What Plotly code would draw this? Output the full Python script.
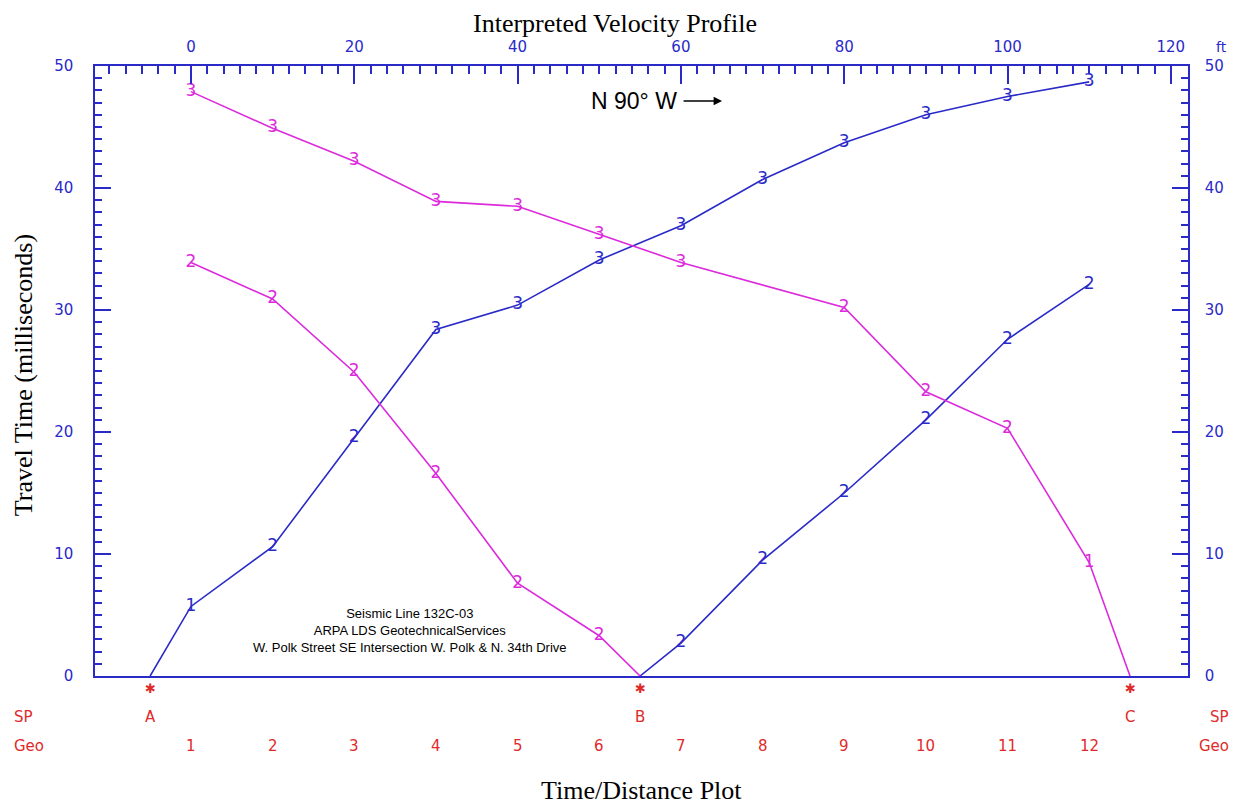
import plotly.graph_objects as go

# distances along the line (ft)
geo_ft = [0, 10, 20, 30, 40, 50, 60, 70, 80, 90, 100, 110]
geo_names = ['1', '2', '3', '4', '5', '6', '7', '8', '9', '10', '11', '12']
sp_ft = [-5, 55, 115]
sp_names = ['A', 'B', 'C']

# shot A, forward (blue)
a_x = [-5, 0, 10, 20, 30, 40, 50, 60, 70, 80, 90, 100, 110]
a_t = [0, 5.7, 10.6, 19.5, 28.4, 30.4, 34.1, 36.9, 40.7, 43.7, 46.0, 47.5, 48.7]
a_lay = ['', '1', '2', '2', '3', '3', '3', '3', '3', '3', '3', '3', '3']

# shot B, forward (blue)
bf_x = [55, 60, 70, 80, 90, 100, 110]
bf_t = [0, 2.7, 9.5, 15.0, 21.0, 27.6, 32.1]
bf_lay = ['', '2', '2', '2', '2', '2', '2']

# shot B, reverse (magenta)
br_x = [0, 10, 20, 30, 40, 50, 55]
br_t = [33.9, 30.9, 24.9, 16.6, 7.6, 3.3, 0]
br_lay = ['2', '2', '2', '2', '2', '2', '']

# shot C, reverse (magenta)
c_x = [0, 10, 20, 30, 40, 50, 60, 80, 90, 100, 110, 115]
c_t = [47.9, 44.9, 42.2, 38.9, 38.5, 36.2, 33.9, 30.2, 23.3, 20.3, 9.3, 0]
c_lay = ['3', '3', '3', '3', '3', '3', '3', '2', '2', '2', '1', '']

blue = '#2a2ac8'
mag = '#dc2adc'
red = '#e02a2a'
xr = [-11.75, 122.1]

fig = go.Figure()

for xs, ys, lab, col in [(a_x, a_t, a_lay, blue), (bf_x, bf_t, bf_lay, blue),
                         (br_x, br_t, br_lay, mag), (c_x, c_t, c_lay, mag)]:
    fig.add_trace(go.Scatter(x=xs, y=ys, text=lab, mode='lines+text',
                             textposition='middle center',
                             textfont=dict(family='DejaVu Sans', size=17, color=col),
                             line=dict(color=col, width=1.6), cliponaxis=False,
                             hoverinfo='skip'))

# dummy trace so the top / right axes get drawn
fig.add_trace(go.Scatter(x=[0], y=[0], xaxis='x2', yaxis='y2', mode='markers',
                         marker=dict(opacity=0), hoverinfo='skip'))

axis_font = dict(family='DejaVu Sans', size=15, color=blue)

# page body has an 8px margin, so the figure is shrunk by that much
fig.update_layout(
    width=1233, height=798,
    margin=dict(l=87, r=53, t=58, b=130),
    paper_bgcolor='white', plot_bgcolor='white',
    showlegend=False,
    xaxis=dict(range=xr, showticklabels=False, ticks='', showgrid=False,
               zeroline=False, showline=True, linecolor=blue, linewidth=1.5),
    xaxis2=dict(range=xr, overlaying='x', side='top', anchor='y',
                tickmode='linear', tick0=0, dtick=20, ticks='inside',
                ticklen=18, tickwidth=1.5, tickcolor=blue, tickfont=axis_font,
                ticklabelstandoff=6,
                minor=dict(ticks='inside', tick0=0, dtick=2, ticklen=8,
                           tickwidth=1.5, tickcolor=blue),
                showgrid=False, zeroline=False, showline=True,
                linecolor=blue, linewidth=1.5),
    yaxis=dict(range=[0, 50], tickmode='linear', tick0=0, dtick=10,
               ticks='inside', ticklen=16, tickwidth=1.5, tickcolor=blue,
               tickfont=axis_font, ticklabelstandoff=17,
               minor=dict(ticks='inside', dtick=1, ticklen=7, tickwidth=1.5,
                          tickcolor=blue),
               showgrid=False, zeroline=False, showline=True,
               linecolor=blue, linewidth=1.5),
    yaxis2=dict(range=[0, 50], overlaying='y', side='right', anchor='x',
                tickmode='linear', tick0=0, dtick=10, ticks='inside',
                ticklen=16, tickwidth=1.5, tickcolor=blue, tickfont=axis_font,
                ticklabelstandoff=12,
                minor=dict(ticks='inside', dtick=1, ticklen=7, tickwidth=1.5,
                           tickcolor=blue),
                showgrid=False, zeroline=False, showline=True,
                linecolor=blue, linewidth=1.5),
)

serif = dict(family='Liberation Serif', size=26, color='black')
notes = [
    dict(text='Interpreted Velocity Profile', x=0.476, y=1.07, font=serif),
    dict(text='Time/Distance Plot', x=0.5, y=-0.187, font=serif),
    dict(text='Travel Time (milliseconds)', x=-0.066, y=0.493, font=serif,
         textangle=-90),
    dict(text='ft', x=1.031, y=1.031,
         font=dict(family='DejaVu Sans', size=14, color=blue)),
    dict(text='Seismic Line 132C-03<br>ARPA LDS GeotechnicalServices<br>'
              'W. Polk Street SE Intersection W. Polk &amp; N. 34th Drive',
         x=0.288, y=0.0754,
         font=dict(family='Liberation Sans', size=13, color='black')),
    dict(text='N 90° W', x=0.493, y=0.9426,
         font=dict(family='Liberation Sans', size=23, color='black')),
]
for n in notes:
    fig.add_annotation(xref='paper', yref='paper', showarrow=False,
                       xanchor='center', yanchor='middle', **n)

red_font = dict(family='DejaVu Sans', size=15, color=red)
for row_y, row_name in [(-0.0672, 'SP'), (-0.1148, 'Geo')]:
    fig.add_annotation(xref='paper', yref='paper', x=-0.0759, y=row_y,
                       text=row_name, showarrow=False, xanchor='left',
                       yanchor='middle', font=red_font)
    fig.add_annotation(xref='paper', yref='paper', x=1.039, y=row_y,
                       text=row_name, showarrow=False, xanchor='right',
                       yanchor='middle', font=red_font)

for pos, name in zip(sp_ft, sp_names):
    fig.add_annotation(x=pos, xref='x', y=-0.0672, yref='paper', text=name,
                       showarrow=False, yanchor='middle', font=red_font)
    fig.add_annotation(x=pos, xref='x', y=-0.0197, yref='paper', text='✱',
                       showarrow=False, yanchor='middle',
                       font=dict(family='DejaVu Sans', size=13, color=red))
for pos, name in zip(geo_ft, geo_names):
    fig.add_annotation(x=pos, xref='x', y=-0.1148, yref='paper', text=name,
                       showarrow=False, yanchor='middle', font=red_font)

# direction arrow
fig.add_annotation(xref='paper', yref='paper', x=0.5737, y=0.9426, ax=-40, ay=0,
                   text='', showarrow=True, arrowhead=2, arrowsize=1.3,
                   arrowwidth=1.3, arrowcolor='black')

fig.write_html("out.html")
